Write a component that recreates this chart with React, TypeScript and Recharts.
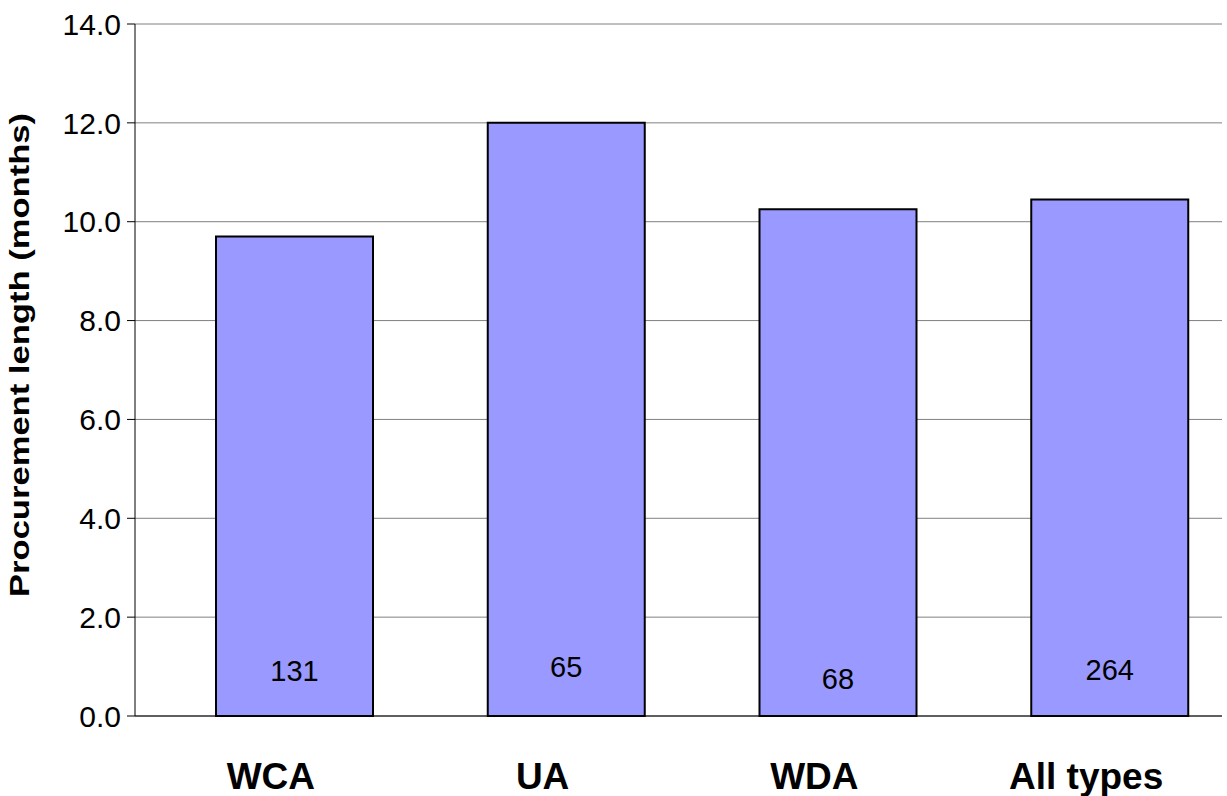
import { ComposedChart, Bar, XAxis, YAxis, CartesianGrid, LabelList } from "recharts";

const categories = ["WCA", "UA", "WDA", "All types"];
const months = [9.7, 12.0, 10.25, 10.45];
const counts = [131, 65, 68, 264];
// height (in months) where each count label sits inside its bar
const countPos = [0.92, 1.0, 0.74, 0.93];

const yTicks = [0, 2, 4, 6, 8, 10, 12, 14];
const edgeTicks = [0, 1, 2, 3, 4];

const FONT = "Arial, 'Liberation Sans', sans-serif";

const data = categories.map((name, i) => ({
  name,
  months: months[i],
  count: counts[i],
}));

function CountLabel(props: any) {
  const { x, y, width, height, index, value } = props;
  // place label proportionally inside the bar, using the bar's own scale
  const v = months[index];
  const cy = y + height - (height * countPos[index]) / v;
  return (
    <text
      x={x + width / 2}
      y={cy}
      textAnchor="middle"
      dominantBaseline="central"
      fontFamily={FONT}
      fontSize={29}
      fill="#000"
    >
      {value}
    </text>
  );
}

function YTitle(props: any) {
  const { viewBox } = props;
  const cx = 29;
  const cy = viewBox.y + viewBox.height / 2 - 15;
  return (
    <text
      x={cx}
      y={cy}
      transform={`rotate(-90, ${cx}, ${cy})`}
      textAnchor="middle"
      fontFamily={FONT}
      fontWeight="bold"
      fontSize={28}
      textLength={484}
      lengthAdjust="spacingAndGlyphs"
      fill="#000"
    >
      Procurement length (months)
    </text>
  );
}

export default function App() {
  return (
    <div style={{ position: "absolute", left: 0, top: 0, background: "#fff" }}>
      <ComposedChart
        width={1227}
        height={796}
        data={data}
        margin={{ top: 24, right: 5, bottom: 0, left: 0 }}
        barGap={-109}
      >
        <CartesianGrid xAxisId="cat" vertical={false} stroke="#808080" strokeWidth={1} />
        {/* category boundary ticks, as in the original */}
        <XAxis
          xAxisId={0}
          type="number"
          domain={[0, 4]}
          ticks={edgeTicks}
          tick={false}
          tickSize={12}
          height={12}
          stroke="#000"
          allowDataOverflow
        />
        <XAxis
          xAxisId="cat"
          dataKey="name"
          axisLine={false}
          tickLine={false}
          tickSize={6}
          tickMargin={29}
          height={68}
          tick={{ fontFamily: FONT, fontSize: 37, fontWeight: "bold", fill: "#000" }}
          interval={0}
        />
        <YAxis
          domain={[0, 14]}
          ticks={yTicks}
          width={135}
          tickSize={8}
          tickMargin={6}
          stroke="#000"
          tickFormatter={(v: number) => v.toFixed(1)}
          tick={{ fontFamily: FONT, fontSize: 30, fill: "#000" }}
          label={<YTitle />}
        />
        <Bar xAxisId="cat" dataKey="spacer" barSize={157} fill="none" isAnimationActive={false} />
        <Bar
          xAxisId="cat"
          dataKey="months"
          barSize={157}
          fill="#9999FF"
          stroke="#000"
          strokeWidth={2}
          isAnimationActive={false}
        >
          <LabelList dataKey="count" content={<CountLabel />} />
        </Bar>
      </ComposedChart>
    </div>
  );
}
